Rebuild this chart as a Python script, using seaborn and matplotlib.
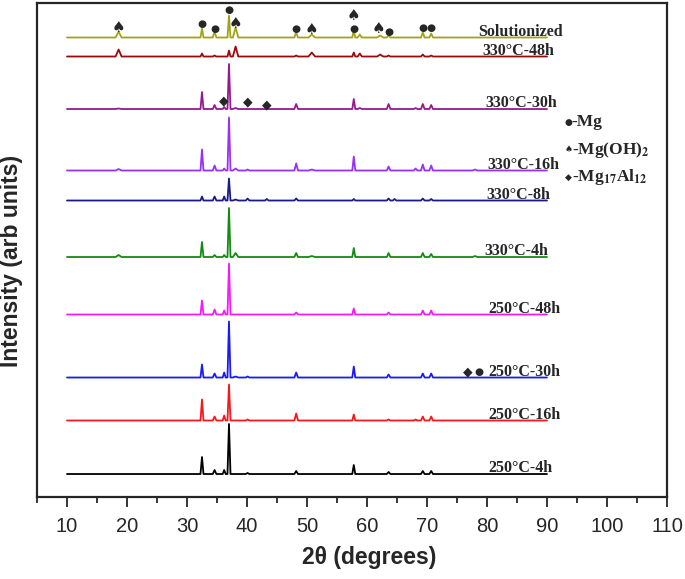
import numpy as np
import pandas as pd
import matplotlib
matplotlib.use("Agg")
import matplotlib.pyplot as plt
import seaborn as sns

sns.set_style("ticks")
plt.rcParams["font.family"] = ["Liberation Sans", "DejaVu Sans"]
plt.rcParams["mathtext.fontset"] = "stix"
plt.rcParams["mathtext.default"] = "bf"

# %% data
# peak positions (2theta, degrees) and base half-widths
peak_pos = [18.6, 32.5, 34.6, 36.2, 37.0, 38.1, 40.1, 43.3, 48.2, 50.8,
            57.8, 58.8, 62.2, 63.6, 64.6, 68.1, 69.3, 70.7, 78.0]
peak_hw = [0.5, 0.25, 0.3, 0.25, 0.25, 0.45, 0.3, 0.3, 0.3, 0.55,
           0.25, 0.35, 0.5, 0.3, 0.3, 0.3, 0.3, 0.3, 0.4]

samples = ["Solutionized", "330°C-48h", "330°C-30h", "330°C-16h", "330°C-8h",
           "330°C-4h", "250°C-48h", "250°C-30h", "250°C-16h", "250°C-4h"]
colors = ["#a3a31a", "#9b0a0a", "#96198f", "#9b30f5", "#1a1a8c",
          "#138a13", "#f51af5", "#1a1af5", "#f51a1a", "#000000"]
# vertical offset of each pattern (arb units)
baselines = [459.5, 440.5, 388, 326.5, 296.5, 240, 182.5, 119.5, 76.5, 23]

# peak heights per pattern, same order as peak_pos
heights = {
    "Solutionized": [6, 9, 6, 0, 22, 10, 0, 0, 5, 3, 7, 3, 2, 2, 0, 0, 5, 4, 0],
    "330°C-48h":    [7, 3, 1, 0, 6, 10, 0, 0, 1, 4, 4, 3, 2, 1, 0, 0, 2, 1, 0],
    "330°C-30h":    [0.5, 17, 4, 2, 45, 1, 0, 0, 5, 0, 10, 1, 0, 5, 0, 1, 5, 4, 0],
    "330°C-16h":    [1.5, 21, 5, 2, 53, 2, 1, 0, 7, 1, 14, 0, 0, 4, 0, 2, 6, 5, 1],
    "330°C-8h":     [0, 4, 4, 4, 22, 1, 2, 1.5, 2, 0, 1.5, 0, 0, 2, 1.5, 0, 2, 1.5, 0],
    "330°C-4h":     [2, 15, 2, 2, 49, 4, 0, 0, 4, 1, 9, 0, 0, 4, 0, 0, 4, 3, 1],
    "250°C-48h":    [0, 14, 5, 4, 51, 0, 0, 0, 2, 0, 6, 0, 0, 2, 0, 0, 4, 4, 0],
    "250°C-30h":    [0, 13, 4, 5, 56, 1, 1, 0, 5, 0, 11, 0, 0, 3, 0, 0, 4, 4, 0],
    "250°C-16h":    [0, 21, 4, 5, 36, 0, 1, 0, 7, 0, 6, 0, 0, 1, 0, 1, 4, 4, 0],
    "250°C-4h":     [0, 17, 4, 4, 50, 0, 1, 0, 3, 0, 9, 0, 0, 2, 0, 0, 3, 3, 0],
}
scan_start, scan_end = 10, 90

# phase markers above the peaks
mark_sym = ["♠", "●", "●", "●", "♠", "●", "♠", "♠", "●", "♠", "●", "●", "●",
            "◆", "◆", "◆", "◆", "●"]
mark_x = [18.6, 32.5, 34.6, 37.0, 38.1, 48.2, 50.8, 57.8, 57.8, 61.9, 63.7, 69.3, 70.7,
          36.2, 40.1, 43.3, 76.8, 78.6]
mark_y = [470, 473, 468, 487, 474, 468, 468, 482, 468, 469, 465, 469, 469,
          396, 395, 392, 125, 125]

label_right = [92.7, 91.2, 91.7, 92.0, 90.5, 90.2, 92.3, 92.2, 92.2, 91.0]

legend_sym = ["●", "♠", "◆"]
legend_txt = ["-Mg", "-Mg(OH)$_2$", "-Mg$_{17}$Al$_{12}$"]

# %% build the long-form table: baseline with triangular peaks
rows = []
for s, base in zip(samples, baselines):
    rows.append((s, scan_start, base))
    for p, w, h in zip(peak_pos, peak_hw, heights[s]):
        if h > 0:
            rows += [(s, p - w, base), (s, p, base + h), (s, p + w, base)]
    rows.append((s, scan_end, base))
df = pd.DataFrame(rows, columns=["sample", "two_theta", "intensity"])

# %% plot
fig = plt.figure(figsize=(6.85, 5.79), dpi=100)
ax = fig.add_axes([0.054, 0.1416, 0.9197, 0.8532])

sns.lineplot(data=df, x="two_theta", y="intensity", hue="sample",
             palette=dict(zip(samples, colors)), estimator=None, sort=False,
             legend=False, linewidth=1.3, ax=ax)

for s, base, xr in zip(samples, baselines, label_right):
    ax.text(xr, base + 2, s, ha="right", va="baseline", fontsize=11.5,
            fontweight="bold", family="Liberation Serif")

sym_size = {"●": 7.5, "♠": 11, "◆": 9}
for sym, x, y in zip(mark_sym, mark_x, mark_y):
    ax.text(x, y, sym, ha="center", va="center", fontsize=sym_size[sym],
            family="DejaVu Sans")

for i, (sym, txt) in enumerate(zip(legend_sym, legend_txt)):
    y = 375 - i * 27.5
    ax.text(93.6, y, sym, ha="center", va="center", fontsize=6.5, family="DejaVu Sans")
    ax.text(94.1, y, txt, ha="left", va="center", fontsize=12.5,
            fontweight="bold", family="Liberation Serif")

ax.set_xlim(5, 110)
ax.set_ylim(0, 494)
ax.set_xticks(np.arange(10, 111, 10))
ax.set_xticks(np.arange(5, 111, 5), minor=True)
ax.set_yticks([])
ax.tick_params(axis="x", which="major", length=7.5, width=1.3, labelsize=14.5, pad=7)
ax.tick_params(axis="x", which="minor", length=4.5, width=1.3)
for sp in ax.spines.values():
    sp.set_linewidth(1.6)
    sp.set_visible(True)

ax.set_xlabel("2θ (degrees)", fontsize=16.5, fontweight="bold")
ax.set_ylabel("Intensity (arb units)", fontsize=16.5, fontweight="bold")
ax.xaxis.set_label_coords(0.527, -0.1)
ax.yaxis.set_label_coords(-0.022, 0.478)

plt.savefig("out.png", dpi=100)
